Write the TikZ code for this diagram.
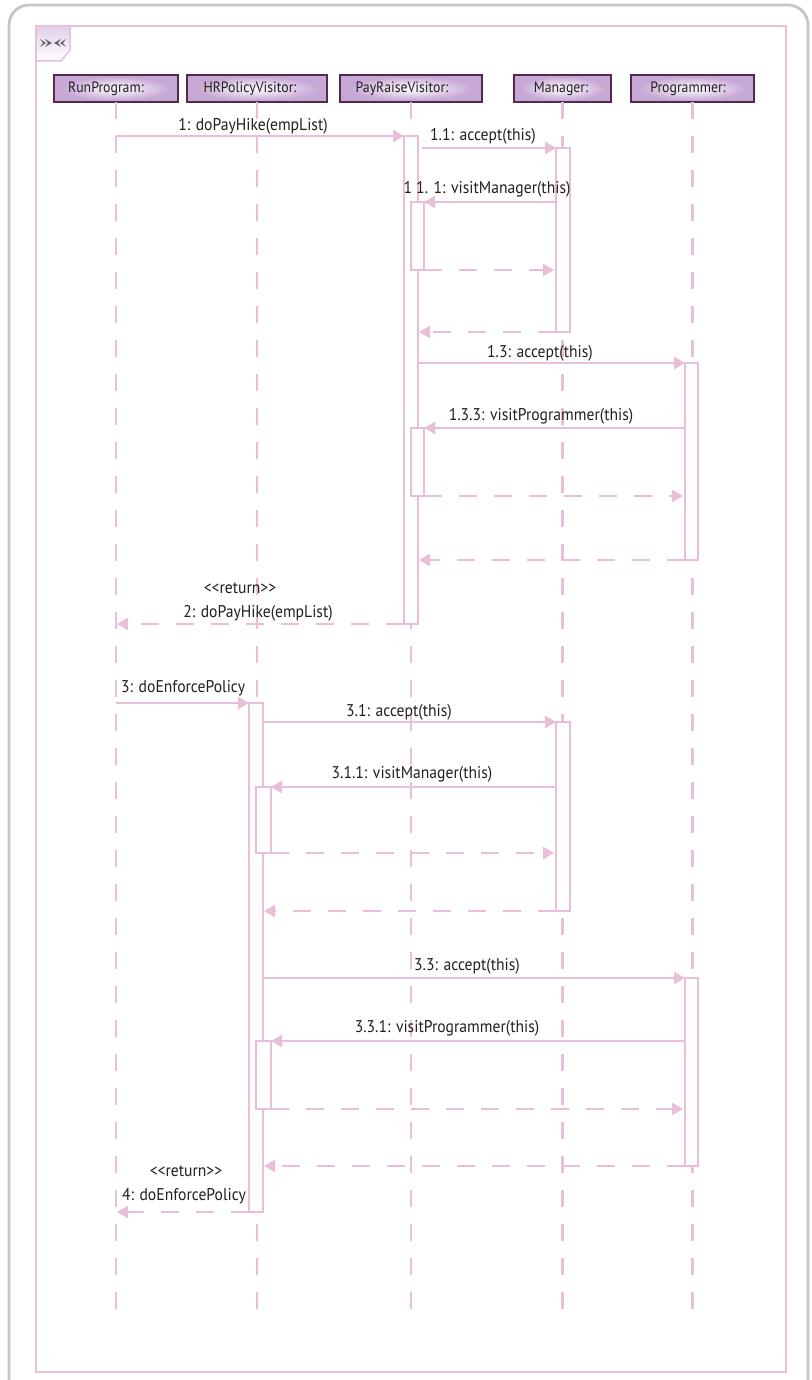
\documentclass[tikz,border=0pt]{standalone}
\usepackage{fontspec}
\setmainfont{PT Sans}[FakeStretch=0.92]
\usetikzlibrary{arrows.meta,calc}
\definecolor{pinkl}{RGB}{232,190,217}
\definecolor{lilac}{RGB}{199,167,213}
\definecolor{hdrborder}{RGB}{85,40,82}
\definecolor{txt}{RGB}{35,31,32}
\definecolor{framegray}{RGB}{198,198,198}
\definecolor{icongray}{RGB}{100,100,100}
\pgfdeclareradialshading{hdrshade}{\pgfpoint{0bp}{0bp}}{color(0bp)=(white!92!lilac); color(9bp)=(white!60!lilac); color(22bp)=(lilac); color(50bp)=(lilac)}
\tikzset{
  hdr/.style={draw=hdrborder, line width=1.4pt, shading=hdrshade, rectangle, minimum height=27pt, inner sep=0pt, outer sep=0pt},
  hdrtext/.style={text=txt, font=\fontsize{15}{17}\selectfont, inner sep=0pt},
  lifeline/.style={pinkl, line width=2.5pt, dash pattern=on 17pt off 17pt},
  act/.style={draw=pinkl, fill=white, line width=2.5pt, rectangle, inner sep=0pt, outer sep=0pt},
  msg/.style={pinkl, line width=2.5pt, -{Triangle[length=11pt,width=12pt]}},
  ret/.style={msg, dash pattern=on 18pt off 17pt},
  lbl/.style={text=txt, font=\fontsize{17}{19}\selectfont, inner sep=0pt, anchor=base}
}
\newcommand{\actbox}[5]{\node[act, minimum width={#4-#2}, minimum height={#5-#3}] (#1) at ({(#2+#4)/2},{(#3+#5)/2}) {};}
\begin{document}
\begin{tikzpicture}[x=1pt, y=-1pt]
\path[use as bounding box] (0,0) rectangle (811,1380);
\clip (0,0) rectangle (811,1380);
\fill[white] (0,0) rectangle (811,1380);
% outer frames
\draw[framegray, line width=2.8pt, rounded corners=20pt] (9,5) rectangle (808,1400);
\draw[pinkl, line width=1.8pt] (36,26) rectangle (786,1372);
\draw[pinkl, line width=1.5pt, top color=lilac!55, bottom color=white] (36,26) -- (70,26) -- (70,50) -- (61,61) -- (36,61) -- cycle;
% icon
\fill[icongray] (40,39) -- (46,43) -- (40,47) -- (43,43) -- cycle;
\fill[icongray] (45,39) -- (52,43) -- (45,47) -- (48,43) -- cycle;
\fill[icongray] (66,39) -- (60,43) -- (66,47) -- (63,43) -- cycle;
\fill[icongray] (61,39) -- (54,43) -- (61,47) -- (58,43) -- cycle;
% headers
\node[hdr, minimum width=124pt] (hRun) at (116,88.5) {};
\node[hdr, minimum width=140pt] (hHR) at (257,88.5) {};
\node[hdr, minimum width=142pt] (hPR) at (411,88.5) {};
\node[hdr, minimum width=97pt] (hMgr) at (562.5,88.5) {};
\node[hdr, minimum width=123pt] (hProg) at (692.5,88.5) {};
\node[hdrtext] (tRun) at (106,89) {RunProgram:};
\node[hdrtext] (tHR) at (250,89) {HRPolicyVisitor:};
\node[hdrtext] (tPR) at (402,89) {PayRaiseVisitor:};
\node[hdrtext] (tMgr) at (561,89) {Manager:};
\node[hdrtext] (tProg) at (688,89) {Programmer:};
% lifelines
\coordinate (eRun) at (116,1325);
\coordinate (eHR) at (257,1325);
\coordinate (ePR) at (411,1325);
\coordinate (eMgr) at (562.5,1325);
\coordinate (eProg) at (692.5,1325);
\draw[lifeline] (hRun.south) -- (eRun);
\draw[lifeline] (hHR.south) -- (eHR);
\draw[lifeline] (hPR.south) -- (ePR);
\draw[lifeline] (hMgr.south) -- (eMgr);
\draw[lifeline] (hProg.south) -- (eProg);
% activations
\actbox{aPR}{404}{136}{418}{624}
\actbox{aMgr1}{556}{148}{570}{332}
\actbox{aPRn1}{411}{202}{424}{270}
\actbox{aProg1}{685}{363}{698}{560}
\actbox{aPRn2}{411}{428}{424}{496}
\actbox{aHR}{249}{703}{263}{1212}
\actbox{aMgr2}{556}{722}{570}{911}
\actbox{aHRn1}{256}{787}{271}{853}
\actbox{aProg2}{685}{978}{698}{1166}
\actbox{aHRn2}{256}{1041}{271}{1109}
% message coordinates
\coordinate (m1s) at (116,136);  \coordinate (m1e) at (404,136);
\coordinate (m11s) at (422,148); \coordinate (m11e) at (556,148);
\coordinate (m111s) at (556,202); \coordinate (m111e) at (424,202);
\coordinate (r1s) at (424,270); \coordinate (r1e) at (554,270);
\coordinate (r2s) at (556,332); \coordinate (r2e) at (419,332);
\coordinate (m13s) at (418,363); \coordinate (m13e) at (685,363);
\coordinate (m133s) at (685,428); \coordinate (m133e) at (424,428);
\coordinate (r3s) at (424,496); \coordinate (r3e) at (683,496);
\coordinate (r4s) at (685,560); \coordinate (r4e) at (419,560);
\coordinate (m2s) at (404,624); \coordinate (m2e) at (117,624);
\coordinate (m3s) at (116,703); \coordinate (m3e) at (249,703);
\coordinate (m31s) at (263,722); \coordinate (m31e) at (556,722);
\coordinate (m311s) at (556,787); \coordinate (m311e) at (271,787);
\coordinate (r5s) at (271,853); \coordinate (r5e) at (554,853);
\coordinate (r6s) at (556,911); \coordinate (r6e) at (264,911);
\coordinate (m33s) at (263,978); \coordinate (m33e) at (685,978);
\coordinate (m331s) at (685,1041); \coordinate (m331e) at (271,1041);
\coordinate (r7s) at (271,1109); \coordinate (r7e) at (683,1109);
\coordinate (r8s) at (685,1166); \coordinate (r8e) at (264,1166);
\coordinate (m4s) at (249,1212); \coordinate (m4e) at (117,1212);
% messages
\draw[msg] (m1s) -- (m1e);
\draw[msg] (m11s) -- (m11e);
\draw[msg] (m111s) -- (m111e);
\draw[ret] (r1s) -- (r1e);
\draw[ret] (r2s) -- (r2e);
\draw[msg] (m13s) -- (m13e);
\draw[msg] (m133s) -- (m133e);
\draw[ret] (r3s) -- (r3e);
\draw[ret] (r4s) -- (r4e);
\draw[ret] (m2s) -- (m2e);
\draw[msg] (m3s) -- (m3e);
\draw[msg] (m31s) -- (m31e);
\draw[msg] (m311s) -- (m311e);
\draw[ret] (r5s) -- (r5e);
\draw[ret] (r6s) -- (r6e);
\draw[msg] (m33s) -- (m33e);
\draw[msg] (m331s) -- (m331e);
\draw[ret] (r7s) -- (r7e);
\draw[ret] (r8s) -- (r8e);
\draw[ret] (m4s) -- (m4e);
% labels
\node[lbl] (l1) at (253,131) {1: doPayHike(empList)};
\node[lbl] (l11) at (483,141) {1.1: accept(this)};
\node[lbl] (l111) at (487,194) {1 1. 1: visitManager(this)};
\node[lbl] (l13) at (540,357) {1.3: accept(this)};
\node[lbl] (l133) at (541,420) {1.3.3: visitProgrammer(this)};
\node[lbl] (l2a) at (240,593) {{<}{<}return{>}{>}};
\node[lbl] (l2b) at (258,617) {2: doPayHike(empList)};
\node[lbl, anchor=base west] (l3) at (121,692) {3: doEnforcePolicy};
\node[lbl] (l31) at (399,716) {3.1: accept(this)};
\node[lbl] (l311) at (412,778) {3.1.1: visitManager(this)};
\node[lbl] (l33) at (467,970) {3.3: accept(this)};
\node[lbl] (l331) at (447,1032) {3.3.1: visitProgrammer(this)};
\node[lbl] (l4a) at (186,1176) {{<}{<}return{>}{>}};
\node[lbl] (l4b) at (184,1200) {4: doEnforcePolicy};
\end{tikzpicture}
\end{document}
